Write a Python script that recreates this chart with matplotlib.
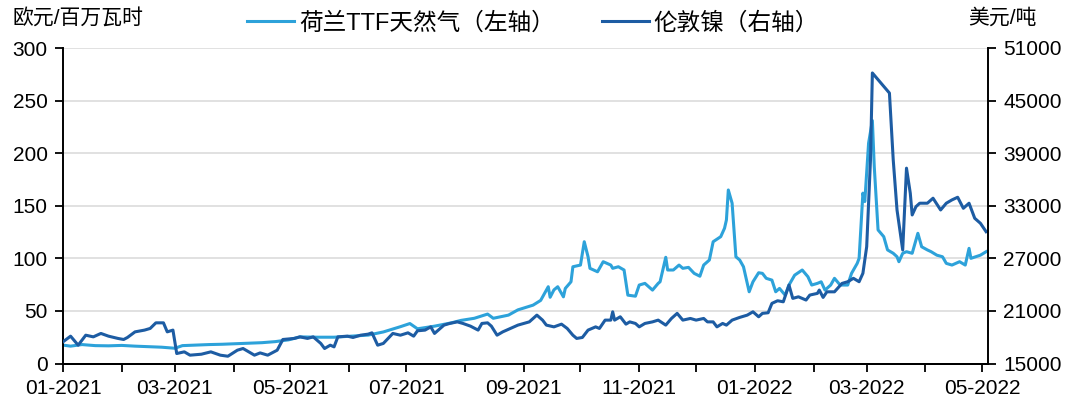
import matplotlib
matplotlib.use('Agg')
import matplotlib.pyplot as plt
import matplotlib.dates as mdates
import pandas as pd

plt.rcParams['font.family'] = ['Liberation Sans', 'Noto Sans CJK SC', 'DejaVu Sans']

# ---------------- data ----------------
ttf_label = '荷兰TTF天然气（左轴）'
ni_label = '伦敦镍（右轴）'
left_unit = '欧元/百万瓦时'
right_unit = '美元/吨'

ttf_dates = [
    '2021-01-01', '2021-01-05', '2021-01-11', '2021-01-18', '2021-01-25', '2021-02-01', '2021-02-08', '2021-02-15',
    '2021-02-22', '2021-03-01', '2021-03-05', '2021-03-12', '2021-03-19', '2021-03-26', '2021-04-02', '2021-04-09',
    '2021-04-16', '2021-04-23', '2021-04-30', '2021-05-06', '2021-05-15', '2021-05-24', '2021-06-02', '2021-06-11',
    '2021-06-19', '2021-06-28', '2021-07-03', '2021-07-07', '2021-07-16', '2021-07-25', '2021-07-30', '2021-08-06',
    '2021-08-13', '2021-08-16', '2021-08-24', '2021-08-29', '2021-09-06', '2021-09-10', '2021-09-14', '2021-09-15',
    '2021-09-17', '2021-09-19', '2021-09-22', '2021-09-23', '2021-09-26', '2021-09-27', '2021-10-01', '2021-10-03',
    '2021-10-05', '2021-10-06', '2021-10-10', '2021-10-13', '2021-10-17', '2021-10-18', '2021-10-21', '2021-10-24',
    '2021-10-26', '2021-10-30', '2021-11-01', '2021-11-04', '2021-11-06', '2021-11-08', '2021-11-11', '2021-11-12',
    '2021-11-15', '2021-11-16', '2021-11-19', '2021-11-22', '2021-11-24', '2021-11-27', '2021-11-30', '2021-12-03',
    '2021-12-05', '2021-12-08', '2021-12-10', '2021-12-14', '2021-12-16', '2021-12-17', '2021-12-18', '2021-12-20',
    '2021-12-22', '2021-12-24', '2021-12-26', '2021-12-29', '2021-12-31', '2022-01-03', '2022-01-05', '2022-01-07',
    '2022-01-10', '2022-01-12', '2022-01-14', '2022-01-17', '2022-01-19', '2022-01-22', '2022-01-26', '2022-01-29',
    '2022-01-31', '2022-02-03', '2022-02-05', '2022-02-07', '2022-02-10', '2022-02-12', '2022-02-15', '2022-02-19',
    '2022-02-21', '2022-02-24', '2022-02-25', '2022-02-27', '2022-02-28', '2022-03-02', '2022-03-04', '2022-03-05',
    '2022-03-07', '2022-03-10', '2022-03-12', '2022-03-15', '2022-03-17', '2022-03-18', '2022-03-20', '2022-03-22',
    '2022-03-25', '2022-03-28', '2022-03-30', '2022-04-02', '2022-04-04', '2022-04-07', '2022-04-10', '2022-04-12',
    '2022-04-15', '2022-04-19', '2022-04-22', '2022-04-24', '2022-04-25', '2022-04-30', '2022-05-03',
]
ttf_values = [
    17.5, 16.5, 18.0, 17.0, 16.8, 17.2, 16.5, 16.0,
    15.5, 14.5, 17.0, 17.5, 18.0, 18.3, 18.8, 19.3,
    19.8, 20.8, 22.5, 25.3, 25.0, 25.0, 26.0, 27.0,
    30.0, 35.0, 38.0, 33.0, 35.5, 38.7, 41.0, 43.0,
    47.0, 43.0, 46.0, 51.0, 55.5, 60.0, 73.0, 63.0,
    70.0, 73.0, 63.4, 71.4, 77.7, 92.0, 93.6, 115.8,
    101.5, 90.5, 87.2, 96.8, 93.6, 90.5, 92.0, 88.9,
    65.0, 64.0, 74.6, 76.2, 73.0, 69.8, 76.2, 77.7,
    101.0, 88.9, 88.9, 93.6, 90.5, 91.4, 85.7, 83.0,
    93.6, 98.4, 115.8, 120.6, 128.6, 136.5, 165.0, 152.4,
    101.5, 98.4, 92.0, 68.2, 77.7, 86.3, 85.7, 81.0,
    79.3, 68.2, 71.4, 65.0, 74.6, 84.0, 88.9, 82.5,
    74.6, 76.2, 77.7, 69.8, 74.6, 81.0, 74.6, 74.6,
    85.7, 95.2, 100.0, 162.0, 154.0, 209.5, 231.0, 187.0,
    127.0, 120.6, 108.0, 104.8, 101.5, 96.8, 104.8, 106.3,
    104.8, 123.8, 111.0, 108.0, 106.3, 103.0, 101.5, 95.2,
    93.6, 96.8, 93.6, 109.5, 100.0, 103.0, 106.3,
]

ni_dates = [
    '2021-01-01', '2021-01-05', '2021-01-09', '2021-01-13', '2021-01-17', '2021-01-21', '2021-01-25', '2021-01-30',
    '2021-02-02', '2021-02-04', '2021-02-08', '2021-02-13', '2021-02-16', '2021-02-19', '2021-02-23', '2021-02-25',
    '2021-02-28', '2021-03-02', '2021-03-06', '2021-03-09', '2021-03-15', '2021-03-20', '2021-03-25', '2021-03-29',
    '2021-04-03', '2021-04-06', '2021-04-12', '2021-04-15', '2021-04-19', '2021-04-24', '2021-04-27', '2021-05-03',
    '2021-05-06', '2021-05-10', '2021-05-13', '2021-05-17', '2021-05-19', '2021-05-22', '2021-05-24', '2021-05-26',
    '2021-05-31', '2021-06-03', '2021-06-07', '2021-06-11', '2021-06-13', '2021-06-16', '2021-06-19', '2021-06-24',
    '2021-06-28', '2021-07-02', '2021-07-05', '2021-07-07', '2021-07-11', '2021-07-14', '2021-07-16', '2021-07-21',
    '2021-07-24', '2021-07-28', '2021-07-31', '2021-08-04', '2021-08-08', '2021-08-10', '2021-08-13', '2021-08-15',
    '2021-08-18', '2021-08-21', '2021-08-25', '2021-08-29', '2021-09-01', '2021-09-04', '2021-09-08', '2021-09-11',
    '2021-09-13', '2021-09-17', '2021-09-21', '2021-09-24', '2021-09-27', '2021-09-29', '2021-10-02', '2021-10-05',
    '2021-10-09', '2021-10-11', '2021-10-14', '2021-10-17', '2021-10-18', '2021-10-19', '2021-10-22', '2021-10-25',
    '2021-10-27', '2021-10-30', '2021-11-01', '2021-11-04', '2021-11-08', '2021-11-11', '2021-11-15', '2021-11-18',
    '2021-11-21', '2021-11-24', '2021-11-28', '2021-12-01', '2021-12-05', '2021-12-07', '2021-12-10', '2021-12-12',
    '2021-12-15', '2021-12-17', '2021-12-20', '2021-12-24', '2021-12-28', '2021-12-31', '2022-01-03', '2022-01-05',
    '2022-01-08', '2022-01-10', '2022-01-13', '2022-01-16', '2022-01-19', '2022-01-21', '2022-01-24', '2022-01-28',
    '2022-01-30', '2022-02-03', '2022-02-04', '2022-02-06', '2022-02-08', '2022-02-12', '2022-02-16', '2022-02-19',
    '2022-02-22', '2022-02-25', '2022-02-27', '2022-03-01', '2022-03-03', '2022-03-04', '2022-03-13', '2022-03-15',
    '2022-03-17', '2022-03-20', '2022-03-22', '2022-03-24', '2022-03-25', '2022-03-27', '2022-03-29', '2022-04-02',
    '2022-04-05', '2022-04-09', '2022-04-12', '2022-04-15', '2022-04-18', '2022-04-21', '2022-04-24', '2022-04-27',
    '2022-04-30', '2022-05-03',
]
ni_values = [
    17470, 18120, 17090, 18230, 18040, 18430, 18120, 17860,
    17740, 17970, 18610, 18810, 19000, 19640, 19640, 18610,
    18810, 16140, 16330, 15950, 16060, 16330, 15950, 15830,
    16520, 16710, 15950, 16210, 15950, 16520, 17740, 17860,
    18040, 17860, 18040, 17290, 16710, 17090, 16900, 18040,
    18120, 17970, 18230, 18350, 18500, 17090, 17290, 18430,
    18230, 18500, 18120, 18730, 18810, 19180, 18430, 19380,
    19570, 19750, 19570, 19260, 18810, 19570, 19640, 19260,
    18230, 18610, 19000, 19380, 19570, 19750, 20520, 19950,
    19380, 19180, 19490, 19000, 18230, 17860, 17970, 18810,
    19180, 19000, 19950, 19950, 20900, 19950, 20330, 19490,
    19750, 19570, 19180, 19570, 19750, 19950, 19380, 20140,
    20720, 19950, 20140, 19950, 20140, 19750, 19750, 19180,
    19570, 19380, 19950, 20260, 20520, 20900, 20330, 20720,
    20790, 21860, 22160, 22040, 23950, 22430, 22610, 22240,
    22810, 23000, 23380, 22540, 23180, 23180, 24140, 24330,
    24720, 24330, 25290, 28330, 38240, 48150, 45860, 38240,
    32520, 27950, 37290, 34430, 31950, 32900, 33290, 33290,
    33860, 32520, 33290, 33670, 33970, 32710, 33290, 31570,
    31000, 30040,
]

x_start = '2021-01-01'
x_end = '2022-05-04'
left_ticks = list(range(0, 301, 50))
right_ticks = list(range(15000, 51001, 6000))

# ---------------- style ----------------
TTF_C = '#2DA2DA'
NI_C = '#1D5CA3'
FS = 15

fig = plt.figure(figsize=(10.8, 4.2), dpi=100)
ax = fig.add_axes([63 / 1080, 1 - 363.5 / 420, (988 - 63) / 1080, (363.5 - 48) / 420])
ax2 = ax.twinx()

l1, = ax.plot(pd.to_datetime(ttf_dates), ttf_values, color=TTF_C, lw=2.2, label=ttf_label,
              solid_joinstyle='round')
l2, = ax2.plot(pd.to_datetime(ni_dates), ni_values, color=NI_C, lw=2.2, label=ni_label,
               solid_joinstyle='round')

ax.set_xlim(pd.Timestamp(x_start), pd.Timestamp(x_end))
ax.set_ylim(left_ticks[0], left_ticks[-1])
ax.set_yticks(left_ticks)
ax2.set_ylim(right_ticks[0], right_ticks[-1])
ax2.set_yticks(right_ticks)

ax.xaxis.set_major_locator(mdates.MonthLocator(bymonth=[1, 3, 5, 7, 9, 11]))
ax.xaxis.set_minor_locator(mdates.MonthLocator())
ax.xaxis.set_major_formatter(mdates.DateFormatter('%m-%Y'))

ax.grid(axis='y', color='#dcdcdc', lw=1.2)
ax.set_axisbelow(True)

for a in (ax, ax2):
    a.spines['top'].set_visible(False)
    for s in ('left', 'right', 'bottom'):
        a.spines[s].set_linewidth(1.4)
        a.spines[s].set_color('black')
ax2.spines['left'].set_visible(False)
ax.spines['right'].set_visible(False)

ax.tick_params(axis='y', direction='out', length=6, width=1.3, labelsize=FS, pad=5)
ax2.tick_params(axis='y', direction='out', length=6, width=1.3, labelsize=FS, pad=5)
ax.tick_params(axis='x', which='both', direction='out', length=6, width=1.3, labelsize=FS, pad=5)

fig.legend(handles=[l1, l2], loc='upper center', bbox_to_anchor=(0.4935, 1.022), ncol=2,
           frameon=False, fontsize=17, handlelength=2.0, handletextpad=0.2, columnspacing=2.0)

fig.text(12 / 1080, 1 - 18 / 420, left_unit, ha='left', va='center', fontsize=FS)
fig.text(968 / 1080, 1 - 18 / 420, right_unit, ha='left', va='center', fontsize=FS)

fig.savefig('out.png', dpi=100)
